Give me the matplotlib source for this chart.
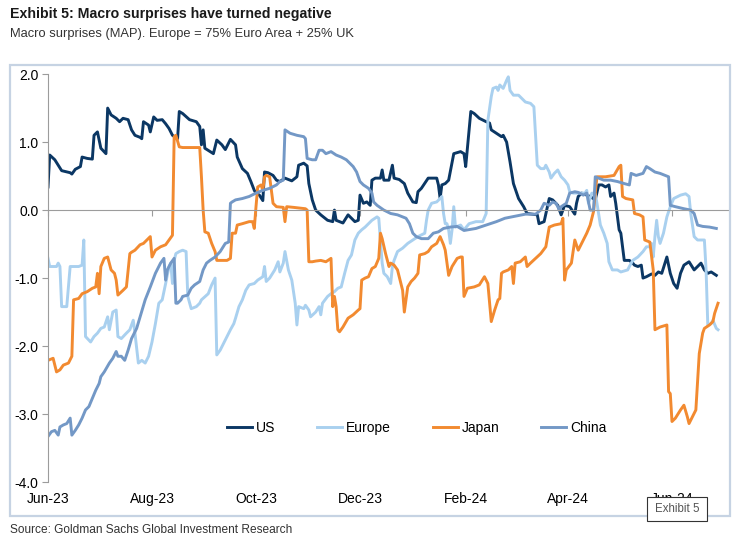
import matplotlib
matplotlib.use('Agg')
import matplotlib.pyplot as plt
import matplotlib.dates as mdates
from matplotlib import font_manager
from matplotlib.patches import Rectangle
import pandas as pd

# days counted from start_date
start_date = '2023-06-01'

us_days = [0, 1, 4, 6, 8, 13, 14, 16, 19, 20, 23, 26, 27, 29, 30, 31, 34, 35, 37, 40,
           42, 44, 47, 49, 51, 54, 55, 56, 59, 60, 62, 64, 67, 69, 71, 73, 76, 77,
           79, 83, 87, 89, 90, 91, 92, 97, 99, 102, 104, 107, 110, 111, 114, 117, 119, 121,
           122, 124, 126, 127, 129, 132, 134, 136, 139, 143, 146, 147, 150, 152, 153, 155, 157, 160,
           164, 167, 168, 169, 173, 176, 180, 182, 183, 185, 187, 189, 190, 192, 195, 196, 197, 200,
           202, 203, 206, 209, 211, 214, 216, 217, 219, 223, 228, 229, 230, 231, 233, 235, 238, 242,
           244, 245, 247, 248, 250, 253, 257, 259, 260, 263, 266, 267, 269, 271, 273, 276, 279, 281,
           287, 288, 291, 294, 296, 299, 301, 303, 306, 309, 310, 311, 313, 316, 318, 321, 323,
           325, 327, 329, 330, 332, 333, 335, 336, 338, 341, 343, 344, 346, 348, 349, 351, 354, 356,
           358, 360, 363, 365, 367, 369, 371, 373, 376, 379, 381, 383, 385, 387, 389, 392]
us_vals = [0.34, 0.81, 0.74, 0.66, 0.58, 0.55, 0.53, 0.60, 0.64, 0.78, 0.76, 0.75, 1.10, 1.15, 1.03, 0.91, 0.83, 1.50, 1.40, 1.35,
           1.30, 1.35, 1.33, 1.18, 1.10, 1.07, 1.05, 1.30, 1.25, 1.15, 1.37, 1.32, 1.33, 1.27, 1.20, 1.10, 1.05, 1.45,
           1.42, 1.33, 1.30, 1.23, 0.96, 1.18, 0.91, 0.83, 1.03, 0.96, 0.89, 1.04, 0.96, 0.78, 0.61, 0.54, 0.42, 0.29,
           0.25, 0.22, 0.14, 0.56, 0.55, 0.51, 0.44, 0.42, 0.47, 0.43, 0.49, 0.66, 0.69, 0.65, 0.39, 0.15, 0.0, -0.07,
           -0.15, -0.17, 0.0, -0.15, -0.19, -0.07, -0.17, -0.15, 0.22, 0.10, 0.12, 0.07, 0.44, 0.47, 0.47, 0.59, 0.44, 0.44,
           0.66, 0.47, 0.45, 0.39, 0.25, 0.12, 0.11, 0.27, 0.32, 0.47, 0.47, 0.37, 0.17, 0.37, 0.39, 0.44, 0.83, 0.86,
           0.83, 0.64, 1.18, 1.45, 1.42, 1.35, 1.30, 1.28, 1.18, 1.13, 1.08, 1.10, 1.00, 0.71, 0.39, 0.17, 0.05, -0.05,
           -0.07, -0.20, -0.17, 0.17, 0.15, 0.07, -0.07, 0.07, 0.05, -0.06, 0.10, 0.20, 0.25, 0.22, 0.20, 0.15, 0.37,
           0.37, 0.34, 0.37, 0.20, 0.25, 0.10, -0.29, -0.34, -0.74, -0.74, -0.78, -0.81, -0.83, -0.81, -1.0, -0.98, -0.94, -0.96,
           -0.91, -0.93, -0.69, -0.93, -1.08, -1.15, -0.93, -0.81, -0.76, -0.88, -0.83, -0.78, -0.88, -0.93, -0.91, -0.96]

europe_days = [0, 1, 5, 6, 7, 8, 11, 13, 18, 20, 21, 22, 25, 27, 29, 31, 33, 35, 36, 38,
               40, 41, 43, 46, 48, 50, 51, 53, 55, 57, 59, 61, 63, 65, 67, 69, 71, 72, 73, 74, 75, 77,
               79, 81, 82, 84, 87, 89, 90, 94, 96, 98, 99, 101, 103, 105, 107, 109, 110, 112, 114, 116,
               118, 121, 123, 126, 127, 128, 130, 133, 135, 136, 138, 139, 141, 143, 145, 146, 147, 150, 151, 153,
               154, 157, 159,
               160, 161, 164, 166, 168, 170, 172, 174, 176, 178, 180, 182, 184, 186, 188, 190, 193, 194, 196, 197,
               199, 201, 202, 203, 205, 208, 211, 214, 217, 221, 222, 223, 225, 228, 230, 231, 232, 233, 234, 235,
               236, 237, 238, 239, 242,
               244, 247, 251, 255, 257, 258, 260, 261, 263, 264, 265, 267, 269, 270, 271, 273, 276, 278, 280, 283,
               285, 286, 287, 289, 291, 292, 294, 295, 297, 299, 301, 303, 305, 306, 308, 311, 315, 316, 317, 319,
               321, 322,
               324, 326, 328, 329, 331, 334, 336, 340, 341, 343, 346, 349, 351, 353, 354, 355, 356, 357, 358, 359,
               361, 363, 365, 367, 371, 374, 376, 377, 379, 381, 385, 386, 387, 389, 390, 392, 393]
europe_vals = [-0.71, -0.83, -0.83, -0.78, -0.83, -1.42, -1.42, -0.83, -0.83, -0.81, -0.44, -1.86, -1.94, -1.86, -1.81, -1.74, -1.72, -1.57, -1.76, -1.50,
               -1.47, -1.86, -1.89, -1.81, -1.76, -1.62, -1.81, -2.25, -2.21, -2.25, -2.15, -1.94, -1.67, -1.37, -1.32, -1.08, -0.83, -0.78, -1.08, -0.74, -0.64, -0.61,
               -0.59, -0.61, -1.27, -1.45, -1.42, -1.37, -1.32, -1.23, -1.10, -1.00, -2.13, -2.06, -1.96, -1.86, -1.76, -1.67, -1.59, -1.42, -1.32, -1.18,
               -1.10, -1.08, -1.03, -0.98, -0.83, -1.05, -1.00, -0.88, -0.76, -0.91, -0.78, -0.61, -0.88, -1.03, -1.37, -1.69, -1.42, -1.45, -1.40, -1.47,
               -1.57, -1.50, -1.42,
               -1.54, -1.37, -1.27, -1.23, -1.20, -1.15, -1.13, -0.93, -0.74, -0.66, -0.44, -0.34, -0.29, -0.25, -0.20, -0.15, -0.10, -0.12, -0.78, -0.93,
               -0.98, -1.08, -0.83, -0.74, -0.61, -0.56, -0.49, -0.44, -0.39, -0.34, -0.15, 0.00, 0.10, 0.12, 0.17, 0.20, -0.05, -0.20, -0.20, -0.29,
               -0.49, -0.29, 0.05, -0.25, -0.22,
               -0.29, -0.20, -0.17, -0.17, -0.05, 1.32, 1.67, 1.79, 1.81, 1.76, 1.84, 1.79, 1.91, 1.96, 1.76, 1.69, 1.69, 1.64, 1.59, 1.57,
               1.52, 1.08, 0.66, 0.61, 0.61, 0.66, 0.56, 0.47, 0.54, 0.59, 0.49, 0.44, 0.37, 0.27, 0.25, 0.25, 0.25, 0.29, 0.10, 0.25,
               0.24, 0.10,
               -0.22, -0.34, -0.49, -0.76, -0.88, -0.88, -0.91, -0.88, -0.83, -0.74, -0.69, -0.61, -0.54, -0.54, -0.49, -0.69, -0.39, -0.15, -0.39, -0.49,
               -0.34, -0.10, 0.05, 0.17, 0.22, 0.24, 0.20, -0.05, -0.39, -0.44, -0.44, -0.88, -1.69, -1.67, -1.62, -1.74, -1.76]

japan_days = [0, 3, 5, 7, 9, 12, 14, 15, 18, 20, 23, 26, 28, 29, 30, 31, 33, 35, 37, 39,
              40, 41, 44, 46, 48, 49, 51, 54, 56, 58, 60, 61, 63, 66, 69, 71, 73, 74, 75, 77,
              79, 85, 89, 90, 91, 92, 94, 96, 98, 99, 105, 107, 108, 110, 111, 114, 118, 120, 121, 122,
              123, 125, 126, 127, 128, 130, 132, 134, 138, 139, 140, 144, 151, 152, 153, 155, 157, 160,
              163, 166, 167, 168, 169, 170, 171, 173, 176, 179, 182, 183, 184, 186, 188, 190, 192, 194, 195, 196,
              198, 200, 201, 203, 205, 208, 209, 211, 213, 215, 217, 218, 221, 223, 225, 228, 230, 232, 233, 235,
              237, 240, 242,
              243, 244, 246, 250, 253, 256, 258, 260, 262, 264, 265, 266, 267, 270, 272, 273, 274, 277, 280, 281,
              283, 286, 289, 292, 294, 297, 301, 302, 303, 304, 307, 309, 311, 313, 316, 318, 320, 321, 322,
              324, 327, 332, 335, 336, 337, 339, 343, 344, 347, 349, 350, 353, 355, 356, 359, 363, 364, 365, 366,
              368, 371, 373, 375, 376, 379, 380, 382, 384, 385, 388, 390, 391, 393]
japan_vals = [-2.21, -2.18, -2.38, -2.35, -2.28, -2.25, -2.15, -1.32, -1.30, -1.23, -1.20, -1.15, -1.13, -0.93, -1.23, -0.83, -0.71, -0.69, -0.88, -0.93,
              -1.03, -1.25, -1.18, -1.13, -0.64, -0.62, -0.59, -0.51, -0.49, -0.44, -0.39, -0.69, -0.59, -0.54, -0.51, -0.44, -0.37, 1.08, 1.10, 0.93,
              0.92, 0.92, 0.92, 0.49, 0.00, -0.32, -0.34, -0.49, -0.61, -0.74, -0.74, -0.71, -0.34, -0.34, -0.22, -0.20, -0.17, -0.17, -0.27, 0.05,
              0.34, 0.37, 0.29, 0.49, 0.51, 0.49, 0.10, 0.05, 0.04, -0.17, 0.05, 0.04, 0.02, 0.00, -0.76, -0.76, -0.75, -0.74,
              -0.76, -0.71, -1.42, -1.27, -1.42, -1.76, -1.79, -1.72, -1.59, -1.54, -1.47, -1.45, -1.03, -1.00, -0.98, -0.86, -0.83, -0.71, -0.34, -0.42,
              -0.64, -0.83, -0.78, -0.81, -0.88, -1.18, -1.50, -1.13, -1.05, -1.00, -0.93, -0.66, -0.64, -0.61, -0.54, -0.49, -0.39, -0.51, -0.59, -0.96,
              -0.83, -0.71, -0.69,
              -0.69, -1.27, -1.15, -1.13, -1.10, -0.98, -1.08, -1.64, -1.47, -1.32, -1.30, -0.93, -0.91, -0.88, -0.83, -1.08, -0.78, -0.76, -0.69, -0.83,
              -0.78, -0.71, -0.64, -0.54, -0.25, -0.22, -0.20, -0.12, -1.03, -0.88, -0.78, -0.44, -0.59, -0.49, -0.34, -0.22, -0.02, 0.25, 0.49,
              0.49, 0.49, 0.51, 0.64, 0.66, 0.20, 0.17, 0.15, -0.05, -0.07, -0.10, -0.44, -0.47, -0.88, -1.76, -1.72, -1.69, -2.67, -2.70, -3.11,
              -3.06, -2.94, -2.87, -3.04, -3.14, -2.99, -2.94, -2.11, -1.81, -1.74, -1.69, -1.64, -1.52, -1.37]

china_days = [0, 2, 4, 6, 7, 9, 11, 13, 14, 16, 18, 20, 22, 24, 26, 28, 30, 31, 33, 36,
              38, 40, 41, 43, 45, 47, 49, 52, 54, 57, 60, 63, 66, 68, 69, 70, 72, 74, 75, 76, 78,
              79, 82, 84, 86, 89, 91, 93, 95, 98, 101, 104, 106, 107, 108, 110, 114, 118, 122, 126, 130,
              134, 136, 138, 139, 142, 146, 150, 151, 152, 155, 157, 159, 161,
              163, 166, 169, 172, 175, 179, 181, 183, 185, 188, 190, 191, 193, 197, 201, 205, 210, 212, 214, 216,
              219, 223, 226, 229, 232, 236, 240,
              244, 251, 257, 263, 268, 274, 280, 286, 289, 291, 294, 296, 298, 300, 301, 304, 306, 309, 311, 314,
              316, 318, 320, 321, 323,
              326, 330, 334, 338, 341, 342, 345, 349, 351, 353, 356, 359, 362, 364, 365, 368, 373, 377, 379, 381,
              384, 388, 392]
china_vals = [-3.33, -3.26, -3.24, -3.31, -3.19, -3.16, -3.14, -3.06, -3.31, -3.24, -3.16, -3.06, -2.94, -2.89, -2.77, -2.65, -2.55, -2.45, -2.38, -2.25,
              -2.18, -2.08, -2.15, -2.15, -2.21, -2.06, -1.89, -1.74, -1.57, -1.32, -1.13, -0.93, -0.78, -0.71, -1.03, -0.88, -0.78, -0.71, -1.37, -1.37, -1.32,
              -1.27, -1.25, -1.15, -1.10, -1.05, -0.88, -0.78, -0.74, -0.69, -0.61, -0.49, -0.47, 0.10, 0.12, 0.15, 0.17, 0.20, 0.25, 0.29, 0.32,
              0.37, 0.42, 0.44, 1.18, 1.13, 1.10, 1.08, 1.05, 0.76, 0.74, 0.74, 0.88, 0.88,
              0.83, 0.86, 0.81, 0.78, 0.74, 0.64, 0.56, 0.42, 0.37, 0.32, 0.25, 0.12, 0.07, 0.00, -0.05, -0.07, -0.12, -0.20, -0.34, -0.39,
              -0.42, -0.42, -0.34, -0.32, -0.27, -0.25, -0.24,
              -0.30, -0.27, -0.22, -0.17, -0.12, -0.09, -0.06, -0.06, 0.00, 0.10, 0.07, 0.12, 0.10, 0.00, 0.05, 0.10, 0.25, 0.27, 0.26, 0.22,
              0.25, 0.00, 0.00, 0.49, 0.47,
              0.44, 0.44, 0.42, 0.39, 0.37, 0.54, 0.51, 0.54, 0.64, 0.61, 0.56, 0.54, 0.51, 0.49, 0.07, 0.05, 0.02, 0.00, -0.05, -0.22,
              -0.24, -0.25, -0.27]

labels = ['US', 'Europe', 'Japan', 'China']
colors = ['#0b3764', '#a9d0ef', '#f28a30', '#7398c6']


def to_dates(days):
    return pd.Timestamp(start_date) + pd.to_timedelta(days, unit='D')


installed = {f.name for f in font_manager.fontManager.ttflist}
if 'Liberation Sans Narrow' in installed:
    narrow, title_size, sub_size, src_size, tag_size = 'Liberation Sans Narrow', 12.4, 11, 10.5, 9.5
else:
    narrow, title_size, sub_size, src_size, tag_size = 'Liberation Sans', 10.2, 9.3, 8.6, 8.3

plt.rcParams['font.family'] = ['Liberation Sans', 'DejaVu Sans']

fig = plt.figure(figsize=(7.5, 5.41), dpi=100)
ax = fig.add_axes([0.064, 0.109, 0.907, 0.754])

series = [(us_days, us_vals), (europe_days, europe_vals),
          (japan_days, japan_vals), (china_days, china_vals)]
for (days, vals), color, label in zip(series, colors, labels):
    ax.plot(to_dates(days), vals, color=color, lw=2.1, label=label)

ax.set_ylim(-4, 2)
ax.set_xlim(pd.Timestamp('2023-06-01'), pd.Timestamp('2024-07-04'))
ax.set_yticks([-4, -3, -2, -1, 0, 1, 2])
ax.yaxis.set_major_formatter(matplotlib.ticker.FormatStrFormatter('%.1f'))

for side in ['top', 'right']:
    ax.spines[side].set_visible(False)
ax.spines['left'].set_color('#9c9c9c')
ax.spines['bottom'].set_color('#9c9c9c')
ax.spines['bottom'].set_position(('data', 0))

ax.xaxis.set_major_locator(mdates.MonthLocator(bymonth=[2, 4, 6, 8, 10, 12]))
ax.xaxis.set_major_formatter(mdates.DateFormatter('%b-%y'))
ax.tick_params(axis='y', direction='out', length=4, color='#9c9c9c', labelsize=10, pad=3)
ax.tick_params(axis='x', direction='out', length=4, color='#9c9c9c', labelsize=10, pad=199)

ax.legend(loc='center left', bbox_to_anchor=(0.263, 0.132), ncol=4, frameon=False,
          handlelength=1.8, handletextpad=0.3, columnspacing=3.0,
          borderaxespad=0, borderpad=0, fontsize=10)

# panel border
fig.add_artist(Rectangle((0.0133, 0.0462), 0.96, 0.8336, transform=fig.transFigure,
                         fill=False, edgecolor='#c6d3e3', lw=1.6, zorder=4))

# "Exhibit 5" tag sits over the last date label, as in the original
fig.add_artist(Rectangle((0.8627, 0.037), 0.08, 0.0444, transform=fig.transFigure,
                         facecolor='white', edgecolor='#333333', lw=0.8, zorder=5))
fig.text(0.9027, 0.0592, 'Exhibit 5', ha='center', va='center', fontsize=tag_size,
         family=narrow, color='#555555', zorder=6)

fig.text(0.0133, 0.974, 'Exhibit 5: Macro surprises have turned negative', ha='left', va='center',
         fontsize=title_size, fontweight='bold', family=narrow, color='#1a1a1a')
fig.text(0.0133, 0.937, 'Macro surprises (MAP). Europe = 75% Euro Area + 25% UK', ha='left',
         va='center', fontsize=sub_size, family=narrow, color='#333333')
fig.text(0.0133, 0.0203, 'Source: Goldman Sachs Global Investment Research', ha='left',
         va='center', fontsize=src_size, family=narrow, color='#333333')

fig.savefig('out.png', dpi=100)
